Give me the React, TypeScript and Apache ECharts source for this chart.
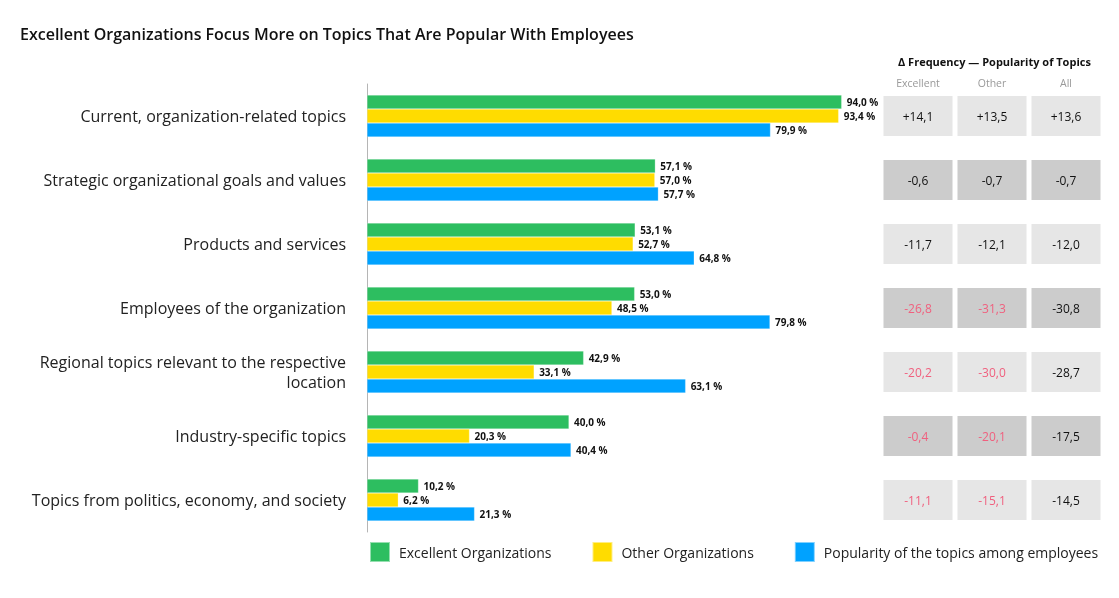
import * as echarts from "echarts"
import { useEffect, useRef } from "react"

const FONT = '"Open Sans", sans-serif'

const topics = [
  "Current, organization-related topics",
  "Strategic organizational goals and values",
  "Products and services",
  "Employees of the organization",
  "Regional topics relevant to the respective\nlocation",
  "Industry-specific topics",
  "Topics from politics, economy, and society",
]

const excellent = [94.0, 57.1, 53.1, 53.0, 42.9, 40.0, 10.2]
const other = [93.4, 57.0, 52.7, 48.5, 33.1, 20.3, 6.2]
const popularity = [79.9, 57.7, 64.8, 79.8, 63.1, 40.4, 21.3]

const deltaColumns = ["Excellent", "Other", "All"]
const deltaExcellent = [14.1, -0.6, -11.7, -26.8, -20.2, -0.4, -11.1]
const deltaOther = [13.5, -0.7, -12.1, -31.3, -30.0, -20.1, -15.1]
const deltaAll = [13.6, -0.7, -12.0, -30.8, -28.7, -17.5, -14.5]
// rows whose group deltas are shown in red
const flagged = [false, false, false, true, true, true, true]

const fmtPct = (v: number) => v.toFixed(1).replace(".", ",") + " %"
const fmtDelta = (v: number) => (v > 0 ? "+" : "") + v.toFixed(1).replace(".", ",")

export default function App() {
  const ref = useRef<HTMLDivElement>(null)

  useEffect(() => {
    if (!ref.current) return
    const chart = echarts.init(ref.current, undefined, { renderer: "svg" })

    const barLabel = {
      show: true,
      position: "right",
      distance: 5,
      color: "#111",
      fontSize: 10,
      fontWeight: "bold",
      fontFamily: FONT,
      formatter: (p: any) => fmtPct(p.value),
    }

    const cells: any[] = []
    ;[deltaExcellent, deltaOther, deltaAll].forEach((col, c) =>
      col.forEach((v, r) => cells.push([c, r, v])),
    )

    chart.setOption({
      animation: false,
      textStyle: { fontFamily: FONT },
      title: {
        text: "Excellent Organizations Focus More on Topics That Are Popular With Employees",
        left: 20,
        top: 26,
        padding: 0,
        textStyle: { fontSize: 16, fontWeight: 600, color: "#111", fontFamily: FONT },
      },
      graphic: [
        {
          type: "text",
          left: 992 - 94,
          top: 56,
          style: {
            text: "Δ Frequency — Popularity of Topics",
            font: `bold 11px ${FONT}`,
            fill: "#111",
          },
        },
      ],
      legend: {
        left: 369,
        top: 541,
        padding: 0,
        icon: "rect",
        itemWidth: 20,
        itemHeight: 20,
        itemGap: 40,
        textStyle: { fontSize: 14, color: "#222", padding: [0, 0, 0, 4], fontFamily: FONT },
        data: ["Excellent Organizations", "Other Organizations", "Popularity of the topics among employees"],
      },
      grid: [
        { left: 367, width: 505, top: 84, bottom: 66 },
        { left: 881, width: 222, top: 84, bottom: 66 },
      ],
      xAxis: [
        { gridIndex: 0, type: "value", min: 0, max: 100, show: false },
        {
          gridIndex: 1,
          type: "category",
          position: "top",
          data: deltaColumns,
          axisLine: { show: false },
          axisTick: { show: false },
          axisLabel: { color: "#999", fontSize: 10.5, margin: -4, fontFamily: FONT },
        },
      ],
      yAxis: [
        {
          gridIndex: 0,
          type: "category",
          inverse: true,
          data: topics,
          axisTick: { show: false },
          axisLine: { lineStyle: { color: "#b5b5b5", width: 1 } },
          axisLabel: { color: "#222", fontSize: 16, margin: 21, lineHeight: 20, fontFamily: FONT },
        },
        { gridIndex: 1, type: "category", inverse: true, data: topics, show: false },
      ],
      series: [
        {
          name: "Excellent Organizations",
          type: "bar",
          data: excellent,
          barWidth: 14,
          barGap: "0%",
          itemStyle: { color: "#2dbe60", borderColor: "rgba(255,255,255,0.5)", borderWidth: 0.5 },
          label: barLabel,
        },
        {
          name: "Other Organizations",
          type: "bar",
          data: other,
          barWidth: 14,
          barGap: "0%",
          itemStyle: { color: "#ffdc00", borderColor: "rgba(255,255,255,0.5)", borderWidth: 0.5 },
          label: barLabel,
        },
        {
          name: "Popularity of the topics among employees",
          type: "bar",
          data: popularity,
          barWidth: 14,
          barGap: "0%",
          itemStyle: { color: "#00a2ff", borderColor: "rgba(255,255,255,0.5)", borderWidth: 0.5 },
          label: barLabel,
        },
        {
          type: "custom",
          xAxisIndex: 1,
          yAxisIndex: 1,
          data: cells,
          renderItem: (_params: any, api: any) => {
            const c = api.value(0)
            const r = api.value(1)
            const v = api.value(2)
            const pt = api.coord([c, r])
            const w = api.size([1, 1])[0] - 5
            const h = 40
            const red = flagged[r] && c < 2
            return {
              type: "group",
              children: [
                {
                  type: "rect",
                  shape: { x: pt[0] - w / 2, y: pt[1] - h / 2, width: w, height: h },
                  style: { fill: r % 2 === 1 ? "#cccccc" : "#e6e6e6" },
                },
                {
                  type: "text",
                  style: {
                    text: fmtDelta(v),
                    x: pt[0],
                    y: pt[1],
                    align: "center",
                    verticalAlign: "middle",
                    fill: red ? "#f0607e" : "#111",
                    font: `12px ${FONT}`,
                  },
                },
              ],
            }
          },
        },
      ],
    })

    return () => chart.dispose()
  }, [])

  return <div ref={ref} style={{ position: "fixed", left: 0, top: 0, width: 1119, height: 598 }} />
}
